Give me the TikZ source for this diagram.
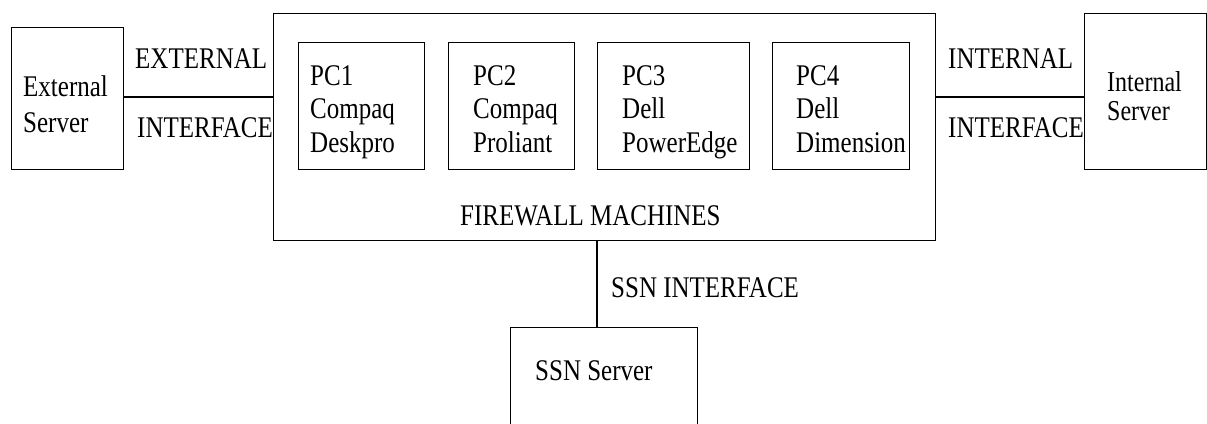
\documentclass[tikz,border=0pt]{standalone}
\usepackage{fontspec}
\setmainfont{Liberation Serif}
\newcommand{\tx}[1]{\scalebox{1}[1.2]{#1}}
\begin{document}
\begin{tikzpicture}[x=1pt,y=-1pt,
  box/.style={draw,line width=1.4pt,rectangle,inner sep=0pt,anchor=north west},
  lbl/.style={anchor=base west,inner sep=0pt,font=\fontsize{25}{33}\selectfont},
  slbl/.style={anchor=base west,inner sep=0pt,font=\fontsize{24}{30}\selectfont},
  wire/.style={line width=1.4pt}]
\useasboundingbox (0,0) rectangle (1207,423);
\clip (0,0) rectangle (1207,423);
% boxes
\node[box,minimum width=112pt,minimum height=142pt] (ext) at (11,27) {};
\node[box,minimum width=662pt,minimum height=227pt] (fw) at (273,13) {};
\node[box,minimum width=126pt,minimum height=127pt] (pc1) at (298,42) {};
\node[box,minimum width=126pt,minimum height=127pt] (pc2) at (448,42) {};
\node[box,minimum width=152pt,minimum height=127pt] (pc3) at (597,42) {};
\node[box,minimum width=137pt,minimum height=127pt] (pc4) at (772,42) {};
\node[box,minimum width=122pt,minimum height=156pt] (int) at (1084,13) {};
\node[box,minimum width=187pt,minimum height=130pt] (ssn) at (510,327) {};
% connectors
\coordinate (yl) at (0,97);
\draw[wire] (ext.east |- yl) -- (fw.west |- yl);
\draw[wire] (fw.east |- yl) -- (int.west |- yl);
\draw[wire] (pc3.west |- fw.south) -- (pc3.west |- ssn.north);
% texts
\node[lbl] (t1) at (23,96) {\tx{External}};
\node[lbl] (t2) at (23,132) {\tx{Server}};
\node[lbl] (t3) at (135,68) {\tx{EXTERNAL}};
\node[lbl] (t4) at (137,137) {\tx{INTERFACE}};
\node[lbl] (p1a) at (310,85) {\tx{PC1}};
\node[lbl] (p1b) at (310,118) {\tx{Compaq}};
\node[lbl] (p1c) at (310,152) {\tx{Deskpro}};
\node[lbl] (p2a) at (473,85) {\tx{PC2}};
\node[lbl] (p2b) at (473,118) {\tx{Compaq}};
\node[lbl] (p2c) at (473,152) {\tx{Proliant}};
\node[lbl] (p3a) at (622,85) {\tx{PC3}};
\node[lbl] (p3b) at (622,118) {\tx{Dell}};
\node[lbl] (p3c) at (622,152) {\tx{PowerEdge}};
\node[lbl] (p4a) at (796,85) {\tx{PC4}};
\node[lbl] (p4b) at (796,118) {\tx{Dell}};
\node[lbl] (p4c) at (796,152) {\tx{Dimension}};
\node[lbl] (fwt) at (460,225) {\tx{FIREWALL MACHINES}};
\node[lbl] (t5) at (948,68) {\tx{INTERNAL}};
\node[lbl] (t6) at (948,137) {\tx{INTERFACE}};
\node[slbl] (t7) at (1107,91) {\tx{Internal}};
\node[slbl] (t8) at (1107,120) {\tx{Server}};
\node[lbl] (t9) at (611,297) {\tx{SSN INTERFACE}};
\node[lbl] (t10) at (535,380) {\tx{SSN Server}};
\end{tikzpicture}
\end{document}
